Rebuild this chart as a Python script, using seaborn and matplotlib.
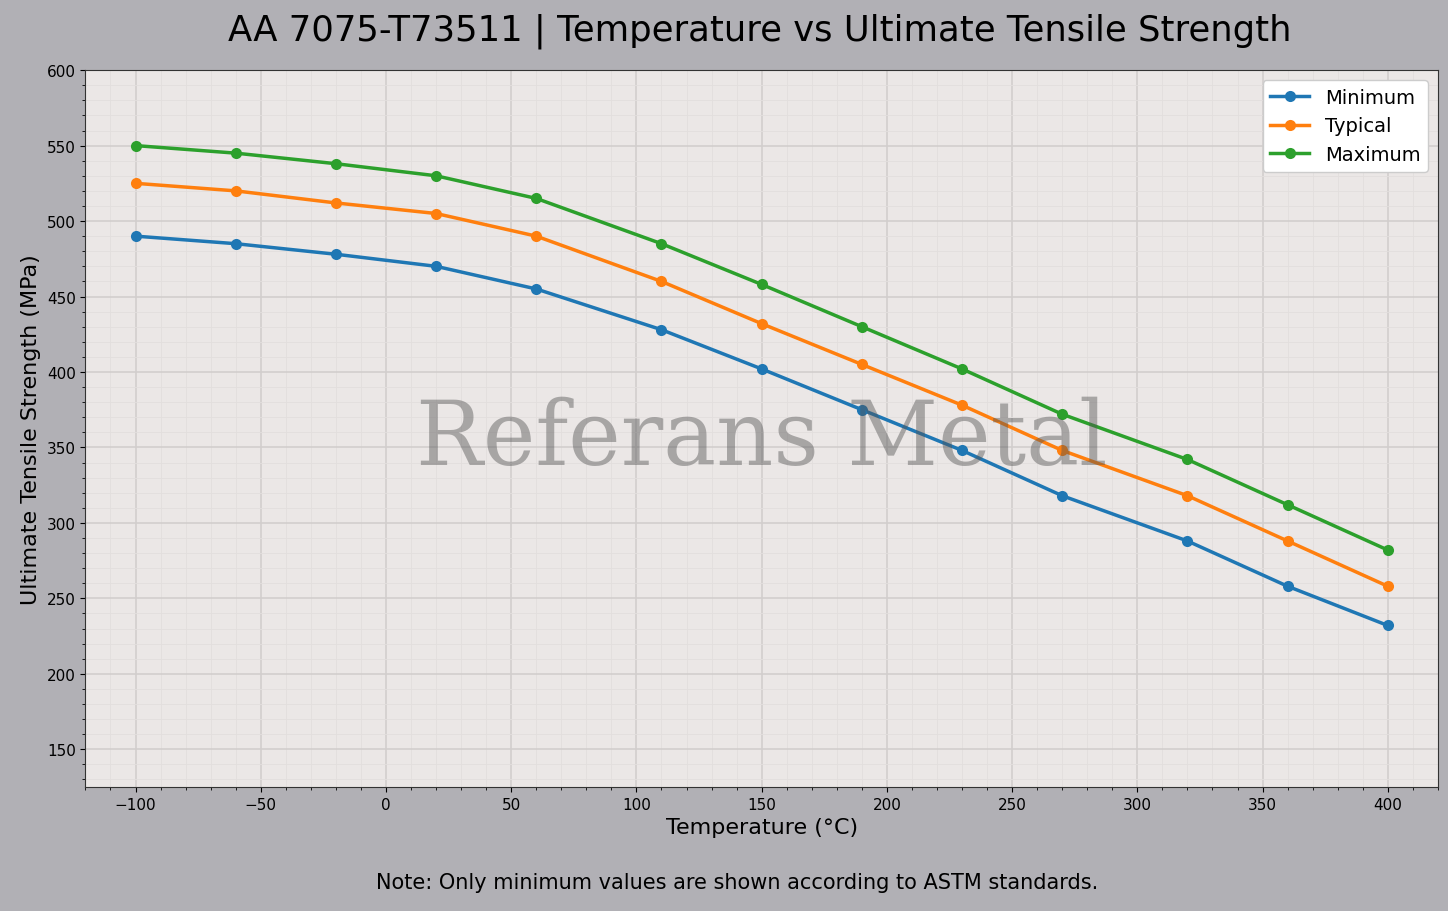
import matplotlib
matplotlib.use("Agg")
import matplotlib.pyplot as plt
import seaborn as sns
import pandas as pd
from matplotlib.ticker import MultipleLocator

temps = [-100, -60, -20, 20, 60, 110, 150, 190, 230, 270, 320, 360, 400]
uts_min = [490, 485, 478, 470, 455, 428, 402, 375, 348, 318, 288, 258, 232]
uts_typ = [525, 520, 512, 505, 490, 460, 432, 405, 378, 348, 318, 288, 258]
uts_max = [550, 545, 538, 530, 515, 485, 458, 430, 402, 372, 342, 312, 282]
series_names = ["Minimum", "Typical", "Maximum"]

df = pd.DataFrame({"T": temps * 3,
                   "UTS": uts_min + uts_typ + uts_max,
                   "Series": sum([[n] * len(temps) for n in series_names], [])})

fig = plt.figure(figsize=(14.48, 9.12), dpi=100, facecolor="#b1b0b5")
ax = fig.add_axes([0.059, 0.136, 0.934, 0.786])
ax.set_facecolor("#ebe7e6")

sns.lineplot(data=df, x="T", y="UTS", hue="Series", marker="o", markersize=8,
             markeredgewidth=0, linewidth=2.5, palette=["#1f77b4", "#ff7f0e", "#2ca02c"], ax=ax)

ax.set_xlim(-120, 420)
ax.set_ylim(125, 600)
ax.xaxis.set_major_locator(MultipleLocator(50))
ax.yaxis.set_major_locator(MultipleLocator(50))
ax.xaxis.set_minor_locator(MultipleLocator(10))
ax.yaxis.set_minor_locator(MultipleLocator(10))
ax.grid(which="major", color="#d2cecd", linewidth=1.2)
ax.grid(which="minor", color="#e2dedd", linewidth=0.6)
ax.set_axisbelow(True)
for s in ax.spines.values():
    s.set_color("#333333")

ax.set_xlabel("Temperature (°C)", fontsize=16)
ax.set_ylabel("Ultimate Tensile Strength (MPa)", fontsize=16)
ax.tick_params(labelsize=11)
leg = ax.legend(loc="upper right", fontsize=14, framealpha=1)
leg.set_title(None)

ax.text(0.5, 0.485, "Referans Metal", transform=ax.transAxes, ha="center", va="center",
        fontsize=64, family="DejaVu Serif", color="#555555", alpha=0.45, zorder=10)

fig.suptitle("AA 7075-T73511 | Temperature vs Ultimate Tensile Strength", fontsize=25.5,
             x=0.525, y=0.985)
fig.text(0.509, 0.025, "Note: Only minimum values are shown according to ASTM standards.",
         ha="center", fontsize=15)

fig.savefig("out.png", dpi=100, facecolor=fig.get_facecolor())
